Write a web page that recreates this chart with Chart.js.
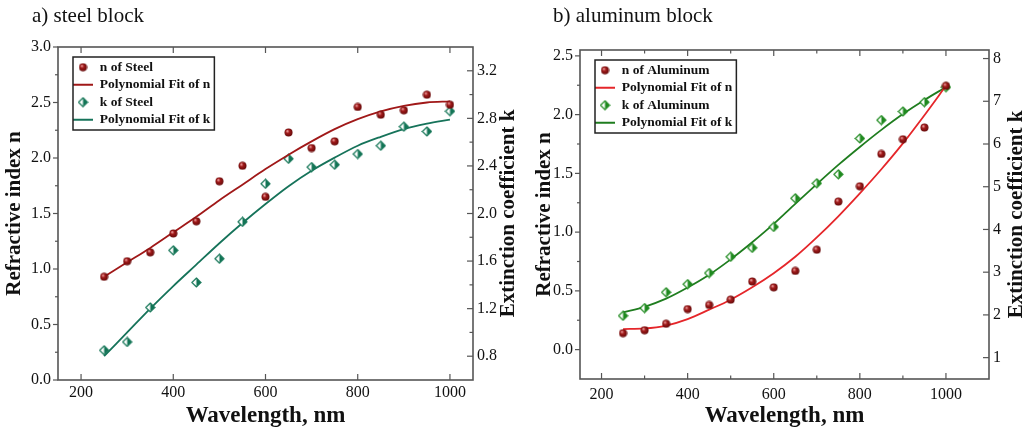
<!DOCTYPE html>
<html>
<head>
<meta charset="utf-8">
<script src="https://cdn.jsdelivr.net/npm/chart.js@4/dist/chart.umd.min.js"></script>
<style>
  body { margin: 0; background: #fff; width: 1028px; height: 431px; position: relative; overflow: hidden; font-family: 'Liberation Serif', serif; }
  .panel { position: absolute; top: 0; height: 431px; }
  #panelSteel { left: 0; width: 524px; }
  #panelAl { left: 524px; width: 504px; }
  .tag { position: absolute; top: 5px; font-size: 21px; line-height: 21px; color: #111; z-index: 2; }
</style>
</head>
<body>
<div class="panel" id="panelSteel"><canvas id="chartSteel" width="524" height="431"></canvas></div>
<div class="panel" id="panelAl"><canvas id="chartAl" width="504" height="431"></canvas></div>
<div class="tag" style="left:32px">a) steel block</div>
<div class="tag" style="left:553px">b) aluminum block</div>
<script>
// ── data ────────────────────────────────────────────────────
const wavelength = [250, 300, 350, 400, 450, 500, 550, 600, 650, 700, 750, 800, 850, 900, 950, 1000];

const steelN    = [0.93, 1.07, 1.15, 1.32, 1.43, 1.79, 1.93, 1.65, 2.23, 2.09, 2.15, 2.46, 2.39, 2.43, 2.57, 2.48];
const steelNFit = [0.93, 1.06, 1.19, 1.33, 1.47, 1.62, 1.76, 1.90, 2.03, 2.15, 2.26, 2.35, 2.42, 2.47, 2.50, 2.51];
const steelK    = [0.85, 0.92, 1.21, 1.69, 1.42, 1.62, 1.93, 2.25, 2.46, 2.39, 2.41, 2.50, 2.57, 2.73, 2.69, 2.86];
const steelKFit = [0.80, 1.00, 1.20, 1.39, 1.57, 1.75, 1.92, 2.08, 2.23, 2.36, 2.47, 2.57, 2.645, 2.71, 2.755, 2.79];

const alN    = [0.14, 0.165, 0.22, 0.345, 0.38, 0.425, 0.58, 0.53, 0.67, 0.85, 1.26, 1.39, 1.665, 1.79, 1.89, 2.245];
const alNFit = [0.175, 0.18, 0.205, 0.26, 0.34, 0.425, 0.53, 0.65, 0.79, 0.955, 1.135, 1.33, 1.535, 1.755, 1.995, 2.245];
const alK    = [1.98, 2.16, 2.53, 2.72, 2.98, 3.36, 3.57, 4.06, 4.73, 5.08, 5.29, 6.13, 6.56, 6.76, 6.98, 7.33];
const alKFit = [2.06, 2.19, 2.38, 2.64, 2.94, 3.30, 3.70, 4.13, 4.60, 5.06, 5.51, 5.93, 6.33, 6.70, 7.03, 7.33];

// tick labels
const steelXTicks = [200, 400, 600, 800, 1000];
const steelNTicks = [0, 0.5, 1.0, 1.5, 2.0, 2.5, 3.0];
const steelNMinor = [0.25, 0.75, 1.25, 1.75, 2.25, 2.75];
const steelKTicks = [0.8, 1.2, 1.6, 2.0, 2.4, 2.8, 3.2];
const steelKMinor = [0.6, 1.0, 1.4, 1.8, 2.2, 2.6, 3.0, 3.4];

const alXTicks = [200, 400, 600, 800, 1000];
const alXMinor = [300, 500, 700, 900, 1100];
const alNTicks = [0, 0.5, 1.0, 1.5, 2.0, 2.5];
const alNMinor = [-0.25, 0.25, 0.75, 1.25, 1.75, 2.25];
const alKTicks = [1, 2, 3, 4, 5, 6, 7, 8];

const SERIF = "'Liberation Serif', 'Times New Roman', serif";

// ── marker images ───────────────────────────────────────────
function makeSphere(base, dark) {
  const c = document.createElement('canvas');
  c.width = 9; c.height = 9;
  const g = c.getContext('2d');
  const grad = g.createRadialGradient(3.2, 3.0, 0.3, 4.5, 4.5, 4.6);
  grad.addColorStop(0, '#eea0a0');
  grad.addColorStop(0.35, base);
  grad.addColorStop(1, dark);
  g.fillStyle = grad;
  g.beginPath(); g.arc(4.5, 4.5, 4.0, 0, Math.PI * 2); g.fill();
  return c;
}

function makeHalfDiamond(color) {
  const c = document.createElement('canvas');
  c.width = 11; c.height = 11;
  const g = c.getContext('2d');
  g.fillStyle = '#fff';
  g.beginPath(); g.moveTo(5.5, 1); g.lineTo(10, 5.5); g.lineTo(5.5, 10); g.lineTo(1, 5.5); g.closePath(); g.fill();
  g.fillStyle = color;
  g.beginPath(); g.moveTo(5.5, 1); g.lineTo(10, 5.5); g.lineTo(5.5, 10); g.closePath(); g.fill();
  g.strokeStyle = color; g.lineWidth = 1.2;
  g.beginPath(); g.moveTo(5.5, 1); g.lineTo(10, 5.5); g.lineTo(5.5, 10); g.lineTo(1, 5.5); g.closePath(); g.stroke();
  return c;
}

const pts = ys => wavelength.map((x, i) => ({ x, y: ys[i] }));

// ── plugins: frame + ticks, legend nudge, right-hand title ──
const frameTicks = {
  id: 'frameTicks',
  afterDraw(chart, args, o) {
    const { ctx, chartArea: a, scales } = chart;
    const seg = (x1, y1, x2, y2) => { ctx.beginPath(); ctx.moveTo(x1, y1); ctx.lineTo(x2, y2); ctx.stroke(); };
    ctx.save();
    ctx.strokeStyle = '#555';
    ctx.lineWidth = 1.2;
    scales.x.ticks.forEach(t => {
      const p = scales.x.getPixelForValue(t.value);
      seg(p, a.bottom, p, a.bottom - 6); seg(p, a.top, p, a.top + 6);
    });
    (o.xMinor || []).forEach(v => {
      const p = scales.x.getPixelForValue(v);
      if (p > a.left && p < a.right) { seg(p, a.bottom, p, a.bottom - 3.5); seg(p, a.top, p, a.top + 3.5); }
    });
    scales.y.ticks.forEach(t => { const p = scales.y.getPixelForValue(t.value); seg(a.left - 5, p, a.left, p); });
    (o.yMinor || []).forEach(v => { const p = scales.y.getPixelForValue(v); if (p > a.top && p < a.bottom) seg(a.left - 3, p, a.left, p); });
    scales.y1.ticks.forEach(t => { const p = scales.y1.getPixelForValue(t.value); seg(a.right - 6, p, a.right, p); });
    (o.y1Minor || []).forEach(v => { const p = scales.y1.getPixelForValue(v); if (p > a.top && p < a.bottom) seg(a.right - 3.5, p, a.right, p); });
    ctx.lineWidth = 1.6;
    ctx.strokeRect(a.left, a.top, a.right - a.left, a.bottom - a.top);
    ctx.restore();
  },
};

const legendNudge = {
  id: 'legendNudge',
  afterLayout(chart) {
    const lg = chart.legend, a = chart.chartArea;
    if (!lg) return;
    lg.left = a.left + 11; lg.right = lg.left + lg.width;
    lg.top = a.top + 9.5; lg.bottom = lg.top + lg.height;
  },
  afterDraw(chart) {
    const boxes = chart.legend && chart.legend.legendHitBoxes;
    if (!boxes || !boxes.length) return;
    const l = Math.min(...boxes.map(b => b.left));
    const r = Math.max(...boxes.map(b => b.left + b.width));
    const t = Math.min(...boxes.map(b => b.top));
    const bt = Math.max(...boxes.map(b => b.top + b.height));
    const { ctx } = chart;
    ctx.save();
    ctx.strokeStyle = '#222'; ctx.lineWidth = 1.5;
    ctx.strokeRect(l, t - 3.5, r - l + 4, bt - t + 7);
    ctx.restore();
  },
};

const sideTitle = {
  id: 'sideTitle',
  afterDraw(chart, args, o) {
    const { ctx, chartArea: a } = chart;
    ctx.save();
    ctx.translate(chart.width - o.offset, (a.top + a.bottom) / 2);
    ctx.rotate(-Math.PI / 2);
    ctx.font = `bold 21px ${SERIF}`;
    ctx.fillStyle = '#111';
    ctx.textAlign = 'center';
    ctx.textBaseline = 'middle';
    ctx.fillText(o.text, 0, 0);
    ctx.restore();
  },
};

Chart.register(frameTicks, legendNudge, sideTitle);

function buildChart(id, cfg) {
  return new Chart(document.getElementById(id), {
    type: 'scatter',
    data: {
      datasets: [
        { label: cfg.names[0], data: pts(cfg.n), yAxisID: 'y', pointStyle: makeSphere(cfg.ballColor, '#5a0606'), pointRadius: 4.5 },
        { label: 'Polynomial Fit of n', data: pts(cfg.nFit), yAxisID: 'y', showLine: true, borderColor: cfg.nLine, backgroundColor: cfg.nLine,
          borderWidth: 1.8, pointRadius: 0, pointStyle: 'line', cubicInterpolationMode: 'monotone' },
        { label: cfg.names[1], data: pts(cfg.k), yAxisID: 'y1', pointStyle: makeHalfDiamond(cfg.diaColor), pointRadius: 5 },
        { label: 'Polynomial Fit of k', data: pts(cfg.kFit), yAxisID: 'y1', showLine: true, borderColor: cfg.kLine, backgroundColor: cfg.kLine,
          borderWidth: 1.8, pointRadius: 0, pointStyle: 'line', cubicInterpolationMode: 'monotone' },
      ],
    },
    options: {
      responsive: false,
      animation: false,
      layout: { padding: { top: cfg.top, left: 0, right: 0, bottom: 0 } },
      plugins: {
        tooltip: { enabled: false },
        legend: {
          position: 'chartArea',
          align: 'start',
          labels: {
            usePointStyle: true, pointStyleWidth: 20, padding: 4, color: '#111',
            font: { family: SERIF, size: 13.5, weight: 'bold' },
          },
        },
        frameTicks: { xMinor: cfg.xMinor, yMinor: cfg.nMinor, y1Minor: cfg.kMinor },
        sideTitle: { text: 'Extinction coefficient k', offset: cfg.rightTitleOffset },
      },
      scales: {
        x: {
          type: 'linear', min: cfg.xMin, max: cfg.xMax,
          afterBuildTicks: s => { s.ticks = cfg.xTicks.map(v => ({ value: v })); },
          afterFit: s => { s.height = cfg.xHeight; },
          grid: { display: false, drawTicks: false }, border: { display: false },
          ticks: { padding: cfg.xPad, color: '#111', font: { family: SERIF, size: 16 }, callback: v => String(v) },
          title: { display: true, text: 'Wavelength, nm', color: '#111', padding: { top: 0, bottom: 1 },
            font: { family: SERIF, size: 23, weight: 'bold' } },
        },
        y: {
          position: 'left', min: cfg.nMin, max: cfg.nMax,
          afterBuildTicks: s => { s.ticks = cfg.nTicks.map(v => ({ value: v })); },
          afterFit: s => { s.width = cfg.yWidth; },
          grid: { display: false, drawTicks: false }, border: { display: false },
          ticks: { padding: 7, color: '#111', font: { family: SERIF, size: 16 }, callback: v => v.toFixed(1) },
          title: { display: true, text: 'Refractive index n', color: '#111', padding: { top: cfg.leftTitlePad, bottom: 0 },
            font: { family: SERIF, size: 21, weight: 'bold' } },
        },
        y1: {
          position: 'right', min: cfg.kMin, max: cfg.kMax,
          afterBuildTicks: s => { s.ticks = cfg.kTicks.map(v => ({ value: v })); },
          afterFit: s => { s.width = cfg.y1Width; },
          grid: { display: false, drawTicks: false }, border: { display: false },
          ticks: { padding: 4, color: '#111', font: { family: SERIF, size: 16 }, callback: cfg.kFmt },
        },
      },
    },
  });
}

// ── a) steel block ──────────────────────────────────────────
buildChart('chartSteel', {
  names: ['n of Steel', 'k of Steel'],
  n: steelN, nFit: steelNFit, k: steelK, kFit: steelKFit,
  ballColor: '#a11a1a', diaColor: '#137556', nLine: '#a01818', kLine: '#16735a',
  xMin: 150, xMax: 1050, xTicks: steelXTicks, xMinor: [],
  nMin: 0, nMax: 3, nTicks: steelNTicks, nMinor: steelNMinor,
  kMin: 0.6, kMax: 3.4, kTicks: steelKTicks, kMinor: steelKMinor, kFmt: v => v.toFixed(1),
  top: 47, xHeight: 51, yWidth: 58, y1Width: 51, xPad: 3,
  leftTitlePad: 2, rightTitleOffset: 15,
});

// ── b) aluminum block ───────────────────────────────────────
buildChart('chartAl', {
  names: ['n of Aluminum', 'k of Aluminum'],
  n: alN, nFit: alNFit, k: alK, kFit: alKFit,
  ballColor: '#a31c1c', diaColor: '#1f8a1f', nLine: '#e5262a', kLine: '#1f7d1f',
  xMin: 150, xMax: 1100, xTicks: alXTicks, xMinor: alXMinor,
  nMin: -0.25, nMax: 2.55, nTicks: alNTicks, nMinor: alNMinor,
  kMin: 0.5, kMax: 8.2, kTicks: alKTicks, kMinor: [], kFmt: v => String(v),
  top: 50, xHeight: 52, yWidth: 56, y1Width: 39, xPad: 6,
  leftTitlePad: 7.5, rightTitleOffset: 11.5,
});
</script>
</body>
</html>
